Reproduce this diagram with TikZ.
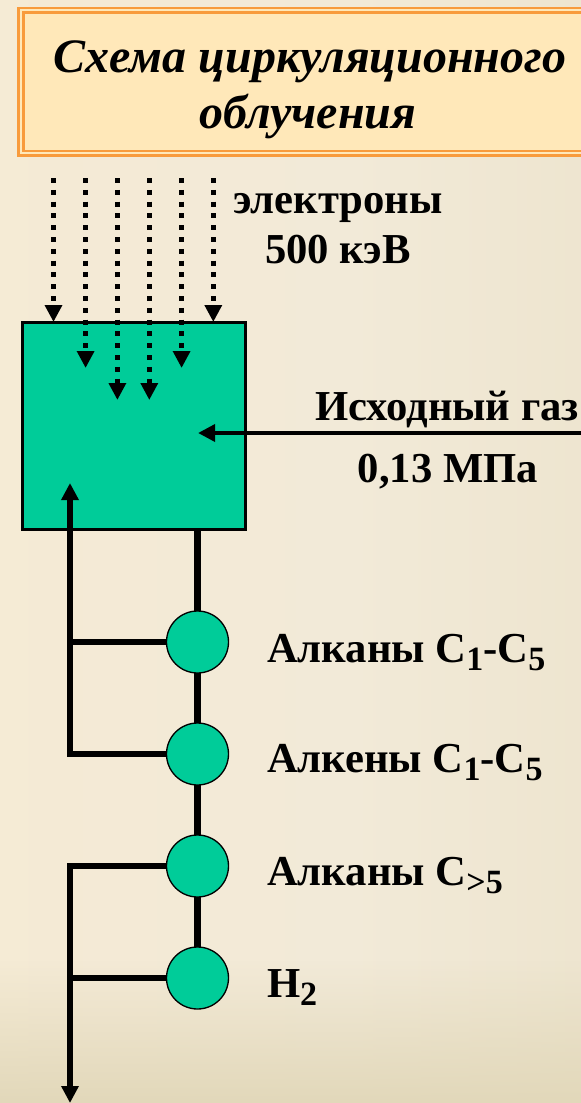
\documentclass[tikz,border=0pt]{standalone}
\usepackage{fontspec}
\setmainfont{Liberation Serif}
\usetikzlibrary{arrows.meta,fadings}
\definecolor{reactgreen}{HTML}{00CC99}
\definecolor{titlefill}{HTML}{FFE8B9}
\definecolor{titleline}{HTML}{F89B3C}
\definecolor{bgA}{HTML}{F7EBD2}
\definecolor{bgB}{HTML}{F2EAD8}
\definecolor{bgC}{HTML}{EBE2CA}
\definecolor{bgD}{HTML}{DFD4B5}
\definecolor{bgBottom}{HTML}{E2D8BA}
\pgfdeclarehorizontalshading{bgshade}{100bp}{color(0bp)=(bgA); color(55bp)=(bgB); color(88bp)=(bgC); color(100bp)=(bgD)}
\tikzfading[name=bottomfade, top color=transparent!100, bottom color=transparent!0]
\newcommand\sbs[1]{\raisebox{-6pt}{\fontsize{25.5pt}{26pt}\selectfont #1}}
\begin{document}
\begin{tikzpicture}[x=0.75pt,y=-0.75pt,
  lbl/.style={font=\fontsize{32pt}{36pt}\selectfont\bfseries, inner sep=0pt, outer sep=0pt},
  ttl/.style={font=\fontsize{36pt}{40pt}\selectfont\bfseries\itshape, inner sep=0pt},
  pipe/.style={line width=4pt},
  beam/.style={line width=3.6pt, dash pattern=on 3.7pt off 5.15pt},
  tip/.style={-{Triangle[length=12.75pt,width=12.5pt]}},
  vessel/.style={draw=black, line width=2pt, fill=reactgreen, minimum width=167pt, minimum height=155pt, inner sep=0pt, outer sep=0pt},
  sepa/.style={circle, draw=black, line width=1pt, fill=reactgreen, minimum size=46.5pt, inner sep=0pt, outer sep=0pt}]
\useasboundingbox (0,0) rectangle (581,1103);
\clip (0,0) rectangle (581,1103);
\shade[shading=bgshade] (0,0) rectangle (581,1103);
\fill[bgBottom, path fading=bottomfade] (0,960) rectangle (581,1103);
% title box
\draw[titleline, line width=2pt, fill=titlefill] (18.7,8) rectangle (650,155.5);
\draw[titleline, line width=2pt] (23.2,12.5) rectangle (650,151);
\node[ttl, anchor=base] (title1) at (310,72) {Схема циркуляционного};
\node[ttl, anchor=base] (title2) at (308,128) {облучения};
% reactor
\node[vessel] (reactor) at (133.9,425.9) {};
% electron beams
\foreach \i/\x/\ye in {1/53.5/322, 2/85.6/368, 3/117.4/400, 4/149.3/400, 5/181.6/368, 6/213.3/322} {
  \coordinate (b\i) at (\x,178);
  \coordinate (t\i) at (\x,\ye);
  \draw[beam,tip] (b\i) -- (t\i);
}
\node[lbl, anchor=base] (el) at (338,213) {электроны};
\node[lbl, anchor=base] (kev) at (338,263) {500 кэВ};
% feed gas
\coordinate (gasin) at (581,433);
\coordinate (gastip) at (198,433);
\draw[line width=3.6pt,tip] (gasin) -- (gastip);
\node[lbl, anchor=base] (gas) at (447,420) {Исходный газ};
\node[lbl, anchor=base] (pr) at (448,482) {0,13 МПа};
% separators
\node[sepa] (c1) at (197.5,642) {};
\node[sepa] (c2) at (197.5,754) {};
\node[sepa] (c3) at (197.5,866) {};
\node[sepa] (c4) at (197.5,978) {};
\draw[line width=4.6pt] (reactor.south -| c1) -- (c1.north);
\draw[line width=4.6pt] (c1.south) -- (c2.north);
\draw[line width=4.6pt] (c2.south) -- (c3.north);
\draw[line width=4.6pt] (c3.south) -- (c4.north);
% recycle
\coordinate (rb) at (70,754);
\coordinate (rt) at (70,483);
\draw[pipe,tip] (c2.west) -- (rb) -- (rt);
\draw[pipe] (c1.west) -- (c1.west -| rb);
% output
\coordinate (ob) at (70,866);
\coordinate (otip) at (70,1103);
\draw[pipe,tip] (c3.west) -- (ob) -- (otip);
\draw[pipe] (c4.west) -- (c4.west -| ob);
% labels
\node[lbl, anchor=base west] (l1) at (267,662) {Алканы C\sbs{1}-C\sbs{5}};
\node[lbl, anchor=base west] (l2) at (267,772) {Алкены C\sbs{1}-C\sbs{5}};
\node[lbl, anchor=base west] (l3) at (267,885) {Алканы C\sbs{>5}};
\node[lbl, anchor=base west] (l4) at (267,997) {H\sbs{2}};
\end{tikzpicture}
\end{document}
